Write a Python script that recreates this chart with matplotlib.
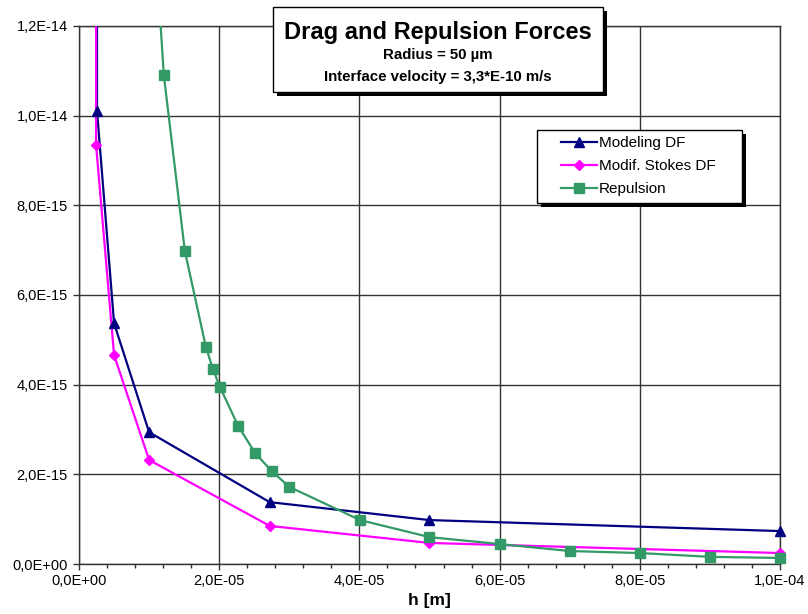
import numpy as np
import matplotlib
matplotlib.use("Agg")
import matplotlib.pyplot as plt
from matplotlib.ticker import FuncFormatter
from matplotlib.patches import Rectangle

plt.rcParams['font.family'] = ['Liberation Sans', 'DejaVu Sans']

# data (h in m, forces in N)
h_model = [2.5e-6, 2.57e-6, 5.0e-6, 1.0e-5, 2.72e-5, 5.0e-5, 1.0e-4]
f_model = [3.0e-14, 1.010e-14, 5.37e-15, 2.94e-15, 1.38e-15, 0.98e-15, 0.735e-15]

h_stokes = [2.45e-6, 2.43e-6, 5.0e-6, 1.0e-5, 2.72e-5, 5.0e-5, 1.0e-4]
f_stokes = [3.0e-14, 9.35e-15, 4.66e-15, 2.32e-15, 0.85e-15, 0.47e-15, 0.245e-15]

h_rep = [1.0e-5, 1.21e-5, 1.51e-5, 1.81e-5, 1.91e-5, 2.01e-5, 2.27e-5, 2.51e-5,
         2.75e-5, 3.0e-5, 4.01e-5, 5.0e-5, 6.0e-5, 7.0e-5, 8.0e-5, 9.0e-5, 1.0e-4]
f_rep = [1.6e-14, 1.09e-14, 6.98e-15, 4.84e-15, 4.35e-15, 3.95e-15, 3.08e-15, 2.48e-15,
         2.07e-15, 1.72e-15, 0.98e-15, 0.60e-15, 0.445e-15, 0.29e-15, 0.245e-15, 0.16e-15, 0.135e-15]

x_ticks = [0, 2e-5, 4e-5, 6e-5, 8e-5, 1e-4]
y_ticks = [0, 2e-15, 4e-15, 6e-15, 8e-15, 1e-14, 1.2e-14]

series = [
    ("Modeling DF", h_model, f_model, "#000080", "^", 7),
    ("Modif. Stokes DF", h_stokes, f_stokes, "#FF00FF", "D", 5),
    ("Repulsion", h_rep, f_rep, "#339966", "s", 7),
]

XMAX = 1.0e-4
YMAX = 1.2e-14

fig = plt.figure(figsize=(8.08, 6.14), dpi=100)
ax = fig.add_axes([0.0978, 0.0814, 0.8675, 0.8763])

handles = []
for name, hx, fy, col, mk, ms in series:
    hx = np.array(hx)
    fy = np.array(fy)
    ax.plot(hx, fy, color=col, linewidth=1.6, zorder=3)
    inside = fy <= YMAX
    ax.plot(hx[inside], fy[inside], linestyle='none', marker=mk, markersize=ms,
            color=col, clip_on=False, zorder=4)
    ln, = ax.plot([], [], color=col, linewidth=1.6, marker=mk, markersize=ms, label=name)
    handles.append(ln)

ax.set_xlim(0, XMAX)
ax.set_ylim(0, YMAX)

fmt = FuncFormatter(lambda v, p: ("%.1E" % v).replace('.', ','))
ax.set_xticks(x_ticks)
ax.set_xticks(np.linspace(0, XMAX, 26), minor=True)
ax.set_yticks(y_ticks)
ax.xaxis.set_major_formatter(fmt)
ax.yaxis.set_major_formatter(fmt)
ax.xaxis.offsetText.set_visible(False)
ax.yaxis.offsetText.set_visible(False)

ax.tick_params(axis='both', which='major', direction='out', length=4, width=1,
               labelsize=10.5, color='#333333', pad=4)
ax.tick_params(axis='x', which='minor', direction='out', length=3, width=1, color='#333333')
ax.tick_params(axis='x', which='major', pad=3)

ax.grid(True, which='major', color='#333333', linewidth=1)
for s in ax.spines.values():
    s.set_color('#333333')
    s.set_linewidth(1)

ax.set_xlabel("h [m]", fontsize=12.5, fontweight='bold', labelpad=4)


def shadow_box(x0, y0, x1, y1, off=4):
    # pixel coords from the top-left corner of the 808x614 picture
    W, H = 808, 614
    fig.patches.append(Rectangle(((x0 + off) / W, 1 - (y1 + off) / H), (x1 - x0) / W, (y1 - y0) / H,
                                 transform=fig.transFigure, facecolor='black',
                                 edgecolor='none', zorder=10))
    fig.patches.append(Rectangle((x0 / W, 1 - y1 / H), (x1 - x0) / W, (y1 - y0) / H,
                                 transform=fig.transFigure, facecolor='white',
                                 edgecolor='black', linewidth=1, zorder=11))


# title box
shadow_box(273, 7, 603, 92)
cx = 438 / 808
fig.text(cx, 1 - 32 / 614, "Drag and Repulsion Forces", ha='center', va='center',
         fontsize=17, fontweight='bold', zorder=12)
fig.text(cx, 1 - 55.5 / 614, "Radius = 50 µm", ha='center', va='center',
         fontsize=10.8, fontweight='bold', zorder=12)
fig.text(cx, 1 - 77.5 / 614, "Interface velocity = 3,3*E-10 m/s", ha='center', va='center',
         fontsize=10.8, fontweight='bold', zorder=12)

# legend box
shadow_box(537, 130, 742, 203)
leg = fig.legend(handles=handles, loc='upper left',
                 bbox_to_anchor=(561 / 808, 1 - 136 / 614), bbox_transform=fig.transFigure,
                 borderaxespad=0, frameon=False, fontsize=11,
                 handlelength=2.35, handletextpad=0.15, labelspacing=0.6, borderpad=0)
leg.set_zorder(13)

fig.savefig("out.png", dpi=100)
